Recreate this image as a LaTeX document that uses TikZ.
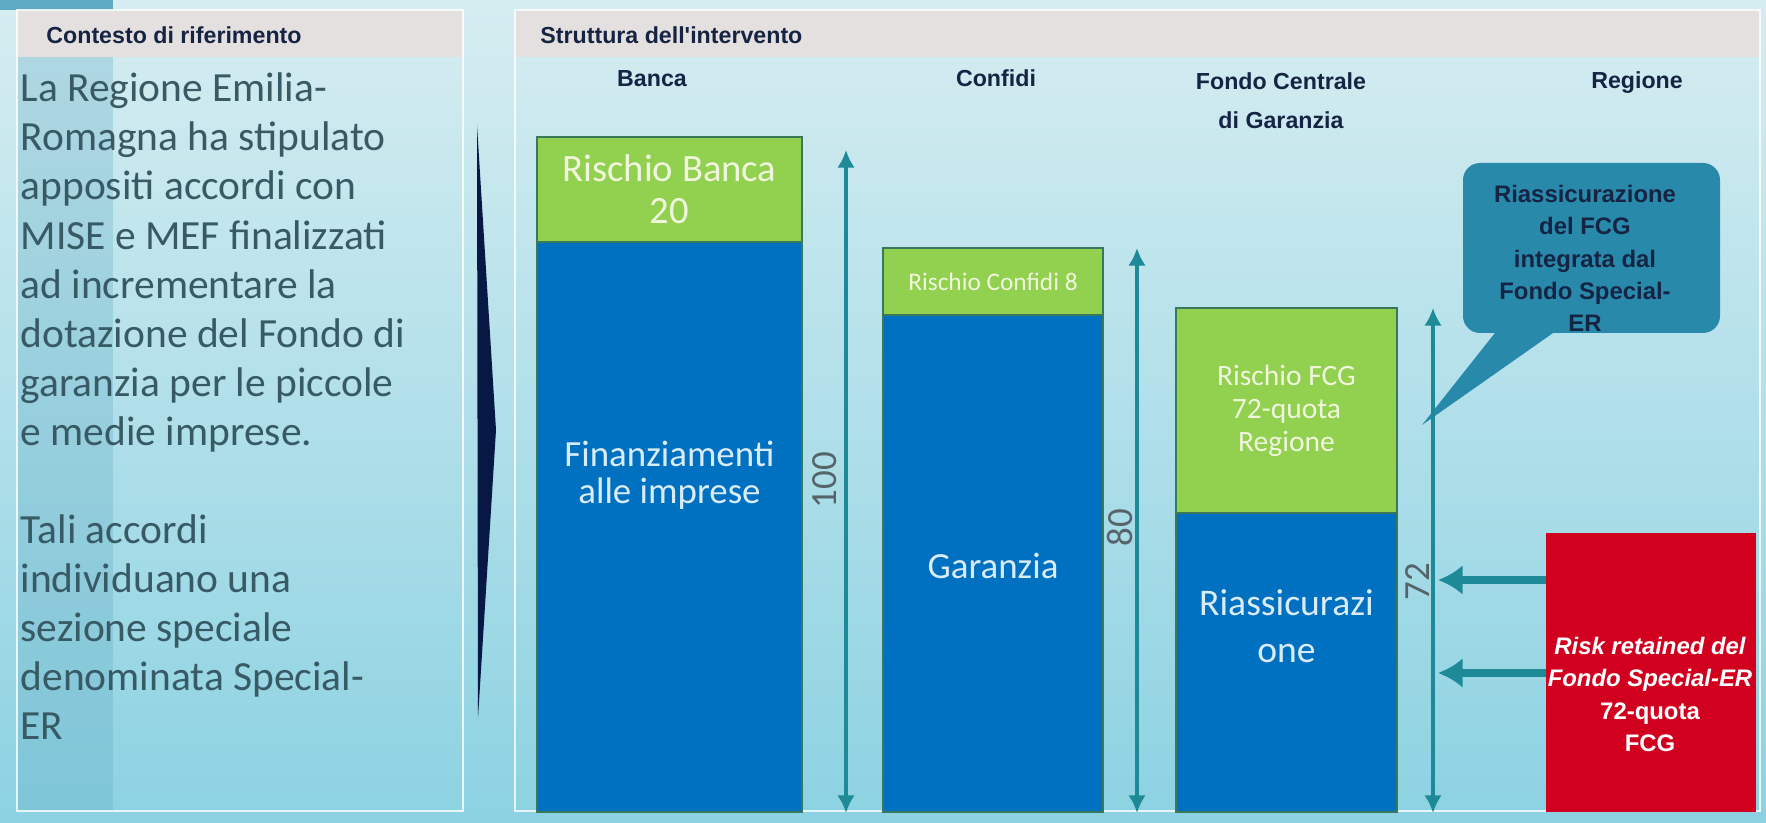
\documentclass[tikz,border=0pt]{standalone}
\usepackage{fontspec}
\setmainfont{Carlito}
\newfontfamily\arialfont{Liberation Sans}
\usetikzlibrary{arrows.meta,positioning}

\definecolor{barblue}{RGB}{0,112,192}
\definecolor{riskgreen}{RGB}{146,208,80}
\definecolor{baredge}{RGB}{58,120,92}
\definecolor{riskred}{RGB}{208,0,30}
\definecolor{dimteal}{RGB}{30,138,152}
\definecolor{callfill}{RGB}{40,137,170}
\definecolor{inknavy}{RGB}{22,36,68}
\definecolor{bodyink}{RGB}{55,90,100}
\definecolor{headgray}{RGB}{228,224,224}
\definecolor{bgtop}{RGB}{214,237,241}
\definecolor{bgbottom}{RGB}{140,210,226}
\definecolor{stripteal}{RGB}{95,170,195}
\definecolor{wedgenavy}{RGB}{8,24,68}
\definecolor{dimgray}{RGB}{85,100,105}
\definecolor{greenink}{RGB}{240,246,222}
\definecolor{blueink}{RGB}{218,236,250}

\begin{document}
\begin{tikzpicture}[
  bar/.style={draw=baredge, line width=0.5pt, inner sep=0pt, outer sep=0pt, align=center},
  riskbar/.style={bar, fill=riskgreen, text=greenink},
  basebar/.style={bar, fill=barblue},
  bluetext/.style={text=blueink, align=center, font=\fontsize{10.5}{10.5}\selectfont},
  colhead/.style={font=\arialfont\bfseries\fontsize{6.6}{11.2}\selectfont, text=inknavy, align=center},
  panelhead/.style={font=\arialfont\bfseries\fontsize{6.6}{8}\selectfont, text=inknavy, anchor=base west},
  dimline/.style={draw=dimteal, line width=1.2pt, {Latex[length=5pt,width=5pt]}-{Latex[length=5pt,width=5pt]}},
  dimlabel/.style={text=dimgray, rotate=90, font=\fontsize{10.5}{12}\selectfont},
  feed/.style={draw=dimteal, line width=2.3pt, -{Latex[length=7pt,width=8.5pt]}},
  body/.style={text=bodyink, anchor=base west, font=\fontsize{11.8}{13.9}\selectfont, inner sep=0pt},
  boldnote/.style={font=\arialfont\bfseries\fontsize{6.8}{9.2}\selectfont, align=center}
]
\shade[top color=bgtop, bottom color=bgbottom] (0,0) rectangle (17.66,8.22);
\useasboundingbox (0,0) rectangle (17.66,8.22);
\fill[stripteal] (0,8.12) rectangle (1.13,8.22);
\fill[stripteal, opacity=0.3] (0.17,0.11) rectangle (1.13,7.65);

\fill[headgray] (0.17,7.65) rectangle (4.63,8.12);
\fill[headgray] (5.15,7.65) rectangle (17.60,8.12);
\draw[white, line width=0.8pt, opacity=0.8] (0.17,0.11) rectangle (4.63,8.12);
\draw[white, line width=0.8pt, opacity=0.8] (5.15,0.11) rectangle (17.60,8.12);

\node[panelhead] (ctxh) at (0.34,7.78) {Contesto di riferimento};
\node[panelhead] (strh) at (5.28,7.78) {Struttura dell'intervento};

\foreach \t [count=\i] in {La Regione Emilia-, Romagna ha stipulato, appositi accordi con, MISE e MEF finalizzati, ad incrementare la, dotazione del Fondo di, garanzia per le piccole, e medie imprese.}
  \node[body] (ctx\i) at (0.20,{7.20-0.49*(\i-1)}) {\t};
\foreach \t [count=\i] in {Tali accordi, individuano una, sezione speciale, denominata Special-, ER}
  \node[body] (acc\i) at (0.20,{2.79-0.49*(\i-1)}) {\t};

\fill[wedgenavy] (4.77,6.97) -- (4.96,3.92) -- (4.78,1.04) -- cycle;

\node[colhead, anchor=base] (hban) at (6.52,7.35) {Banca};
\node[colhead, anchor=base] (hcon) at (9.96,7.35) {Confidi};
\node[colhead] (hfcg) at (12.81,7.21) {Fondo Centrale\\di Garanzia};
\node[colhead, anchor=base] (hreg) at (16.37,7.33) {Regione};

\node[riskbar, anchor=north west, minimum width=2.65cm, minimum height=1.05cm, font=\fontsize{11}{12}\selectfont] (banr) at (5.37,6.85) {Rischio Banca\\20};
\node[basebar, below=0pt of banr, minimum width=2.65cm, minimum height=5.70cm] (banf) {};
\node[bluetext] (banft) at (6.695,3.47) {Finanziamenti\\alle imprese};

\node[riskbar, anchor=north west, minimum width=2.20cm, minimum height=0.67cm, font=\fontsize{7.2}{8}\selectfont] (conr) at (8.83,5.74) {Rischio Confidi 8};
\node[basebar, below=0pt of conr, minimum width=2.20cm, minimum height=4.97cm] (cong) {};
\node[bluetext, anchor=base] (congt) at (9.93,2.44) {Garanzia};

\node[riskbar, anchor=north west, minimum width=2.21cm, minimum height=2.05cm, font=\fontsize{8.4}{9.4}\selectfont] (fcgr) at (11.76,5.14) {Rischio FCG\\72-quota\\Regione};
\node[basebar, below=0pt of fcgr, minimum width=2.21cm, minimum height=2.99cm] (fcgf) {};
\node[bluetext, font=\fontsize{10.7}{13.4}\selectfont] (fcgft) at (12.865,1.96) {Riassicurazi\\one};

\node[fill=riskred, inner sep=0pt, outer sep=0pt, anchor=north west, minimum width=2.10cm, minimum height=2.79cm] (ret) at (15.46,2.89) {};
\node[boldnote, text=white] (rett) at (16.50,1.275) {{\itshape Risk retained del}\\{\itshape Fondo Special-ER}\\72-quota\\FCG};

\coordinate (ctip) at (14.22,3.97);
\node[fill=callfill, rounded corners=0.17cm, minimum width=2.57cm, minimum height=1.70cm, inner sep=0pt] (call) at (15.915,5.74) {};
\fill[callfill] ([xshift=0.40cm,yshift=0.1cm]call.south west) -- (ctip) -- ([xshift=1.04cm,yshift=0.1cm]call.south west) -- cycle;
\node[boldnote, text=inknavy] (callt) at (15.85,5.635) {Riassicurazione\\del FCG\\integrata dal\\Fondo Special-\\ER};

\coordinate (b100) at (8.46,0.09);
\coordinate (t100) at (8.46,6.72);
\draw[dimline] (b100) -- (t100);
\node[dimlabel] (l100) at (8.25,3.42) {100};
\coordinate (b80) at (11.37,0.09);
\coordinate (t80) at (11.37,5.74);
\draw[dimline] (b80) -- (t80);
\node[dimlabel] (l80) at (11.20,2.94) {80};
\coordinate (b72) at (14.33,0.09);
\coordinate (t72) at (14.33,5.14);
\draw[dimline] (b72) -- (t72);
\node[dimlabel] (l72) at (14.18,2.40) {72};

\coordinate (f1) at (14.38,2.42);
\coordinate (f2) at (14.38,1.49);
\draw[feed] (ret.west |- f1) -- (f1);
\draw[feed] (ret.west |- f2) -- (f2);
\end{tikzpicture}
\end{document}
